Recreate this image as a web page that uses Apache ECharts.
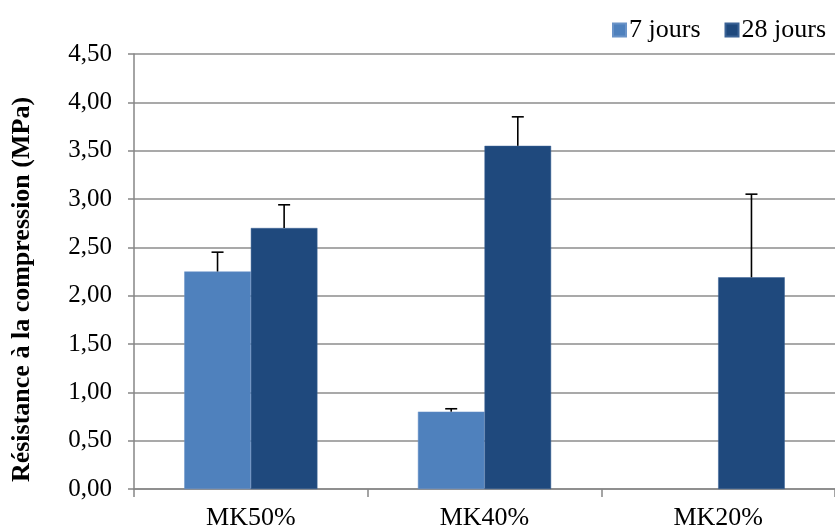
<!DOCTYPE html>
<html>
<head>
<meta charset="utf-8">
<script src="https://cdn.jsdelivr.net/npm/echarts@6/dist/echarts.min.js"></script>
<style>html,body{margin:0;padding:0;background:#fff}#c{width:835px;height:531px}</style>
</head>
<body>
<div id="c"></div>
<script>
var categories = ['MK50%', 'MK40%', 'MK20%'];
var seriesNames = ['7 jours', '28 jours'];
var values7 = [2.25, 0.80, null];
var values28 = [2.70, 3.55, 2.19];
var err7 = [0.20, 0.03, null];
var err28 = [0.24, 0.30, 0.86];
var yTicks = [0, 0.5, 1, 1.5, 2, 2.5, 3, 3.5, 4, 4.5];

var BAR_FRAC = 0.285;
var FONT = '"Liberation Serif", "Times New Roman", serif';

function errData(vals, errs) {
  var out = [];
  for (var i = 0; i < vals.length; i++) {
    if (vals[i] != null && errs[i] != null) out.push([i, vals[i], vals[i] + errs[i]]);
  }
  return out;
}
function errSeries(name, data, side) {
  return {
    type: 'custom',
    name: name + ' err',
    data: data,
    z: 5,
    silent: true,
    renderItem: function (params, api) {
      var idx = api.value(0);
      var lo = api.coord([idx, api.value(1)]);
      var hi = api.coord([idx, api.value(2)]);
      var band = api.size([1, 0])[0];
      var x = lo[0] + side * band * BAR_FRAC / 2;
      var cap = 6;
      var st = {stroke: '#000', lineWidth: 1.6};
      return {
        type: 'group',
        children: [
          {type: 'line', shape: {x1: x, y1: lo[1], x2: x, y2: hi[1]}, style: st},
          {type: 'line', shape: {x1: x - cap, y1: hi[1], x2: x + cap, y2: hi[1]}, style: st}
        ]
      };
    },
    encode: {x: 0, y: [1, 2]}
  };
}

var chart = echarts.init(document.getElementById('c'));
chart.setOption({
  animation: false,
  textStyle: {fontFamily: FONT},
  legend: {
    data: seriesNames,
    right: 4,
    top: 12,
    itemWidth: 13,
    itemHeight: 13,
    itemGap: 24,
    icon: 'rect',
    textStyle: {fontFamily: FONT, fontSize: 26, color: '#000', padding: [0, 0, 0, -2]}
  },
  grid: {left: 134, right: 0, top: 54, bottom: 42, containLabel: false},
  xAxis: {
    type: 'category',
    data: categories,
    axisLine: {lineStyle: {color: '#868686', width: 1.5}},
    axisTick: {show: true, length: 8, lineStyle: {color: '#868686', width: 1.5}},
    axisLabel: {fontFamily: FONT, fontSize: 26, color: '#000', margin: 16}
  },
  yAxis: {
    type: 'value',
    min: yTicks[0],
    max: yTicks[yTicks.length - 1],
    interval: 0.5,
    name: 'Résistance à la compression (MPa)',
    nameLocation: 'middle',
    nameRotate: 90,
    nameGap: 99,
    nameTextStyle: {fontFamily: FONT, fontSize: 26, fontWeight: 'bold', color: '#000', padding: [0, 36, 0, 0]},
    axisLine: {show: true, lineStyle: {color: '#868686', width: 1.5}},
    axisTick: {show: true, length: 6, lineStyle: {color: '#868686', width: 1.5}},
    splitLine: {lineStyle: {color: '#8c8c8c', width: 1.5}},
    axisLabel: {
      fontFamily: FONT, fontSize: 25, color: '#000', margin: 22,
      formatter: function (v) { return v.toFixed(2).replace('.', ','); }
    }
  },
  series: [
    {name: seriesNames[0], type: 'bar', data: values7, barWidth: (BAR_FRAC * 100) + '%', barGap: '0%',
     itemStyle: {color: '#4F81BD', borderColor: '#6a93c8', borderWidth: 0.5}},
    {name: seriesNames[1], type: 'bar', data: values28, barWidth: (BAR_FRAC * 100) + '%', barGap: '0%',
     itemStyle: {color: '#1F497D', borderColor: '#3b6396', borderWidth: 0.5}},
    errSeries(seriesNames[0], errData(values7, err7), -1),
    errSeries(seriesNames[1], errData(values28, err28), 1)
  ]
});
</script>
</body>
</html>
